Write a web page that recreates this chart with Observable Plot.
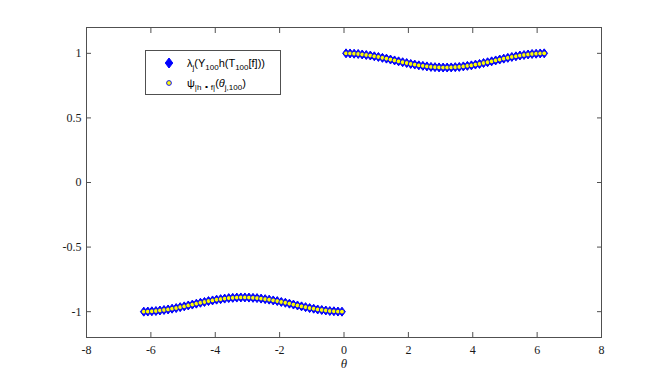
<!DOCTYPE html>
<html><head><meta charset="utf-8">
<script src="https://cdn.jsdelivr.net/npm/d3@7"></script>
<script src="https://cdn.jsdelivr.net/npm/@observablehq/plot@0.6"></script>
<style>body{margin:0;background:#fff}</style>
</head><body><div id="chart"></div>
<script>
// sample angles theta_{j,100}
const theta = [
 -6.220,-6.095,-5.969,-5.843,-5.718,-5.592,-5.466,-5.341,-5.215,-5.089,
 -4.964,-4.838,-4.712,-4.587,-4.461,-4.335,-4.210,-4.084,-3.958,-3.833,
 -3.707,-3.581,-3.456,-3.330,-3.204,-3.079,-2.953,-2.827,-2.702,-2.576,
 -2.450,-2.325,-2.199,-2.073,-1.948,-1.822,-1.696,-1.571,-1.445,-1.319,
 -1.194,-1.068,-0.942,-0.817,-0.691,-0.565,-0.440,-0.314,-0.188,-0.063,
 0.063,0.188,0.314,0.440,0.565,0.691,0.817,0.942,1.068,1.194,
 1.319,1.445,1.571,1.696,1.822,1.948,2.073,2.199,2.325,2.450,
 2.576,2.702,2.827,2.953,3.079,3.204,3.330,3.456,3.581,3.707,
 3.833,3.958,4.084,4.210,4.335,4.461,4.587,4.712,4.838,4.964,
 5.089,5.215,5.341,5.466,5.592,5.718,5.843,5.969,6.095,6.220
];
// eigenvalues lambda_j (diamonds)
const lambdaValues = [
 -1.000,-0.999,-0.997,-0.995,-0.991,-0.987,-0.983,-0.977,-0.972,-0.965,
 -0.959,-0.952,-0.945,-0.938,-0.931,-0.925,-0.918,-0.913,-0.907,-0.903,
 -0.899,-0.895,-0.893,-0.891,-0.890,-0.890,-0.891,-0.893,-0.895,-0.899,
 -0.903,-0.907,-0.913,-0.918,-0.925,-0.931,-0.938,-0.945,-0.952,-0.959,
 -0.965,-0.972,-0.977,-0.983,-0.987,-0.991,-0.995,-0.997,-0.999,-1.000,
 1.000,0.999,0.997,0.995,0.991,0.987,0.983,0.977,0.972,0.965,
 0.959,0.952,0.945,0.938,0.931,0.925,0.918,0.913,0.907,0.903,
 0.899,0.895,0.893,0.891,0.890,0.890,0.891,0.893,0.895,0.899,
 0.903,0.907,0.913,0.918,0.925,0.931,0.938,0.945,0.952,0.959,
 0.965,0.972,0.977,0.983,0.987,0.991,0.995,0.997,0.999,1.000
];
// psi values (circles) — coincide with the eigenvalues in the picture
const psiValues = [
 -1.000,-0.999,-0.997,-0.995,-0.991,-0.987,-0.983,-0.977,-0.972,-0.965,
 -0.959,-0.952,-0.945,-0.938,-0.931,-0.925,-0.918,-0.913,-0.907,-0.903,
 -0.899,-0.895,-0.893,-0.891,-0.890,-0.890,-0.891,-0.893,-0.895,-0.899,
 -0.903,-0.907,-0.913,-0.918,-0.925,-0.931,-0.938,-0.945,-0.952,-0.959,
 -0.965,-0.972,-0.977,-0.983,-0.987,-0.991,-0.995,-0.997,-0.999,-1.000,
 1.000,0.999,0.997,0.995,0.991,0.987,0.983,0.977,0.972,0.965,
 0.959,0.952,0.945,0.938,0.931,0.925,0.918,0.913,0.907,0.903,
 0.899,0.895,0.893,0.891,0.890,0.890,0.891,0.893,0.895,0.899,
 0.903,0.907,0.913,0.918,0.925,0.931,0.938,0.945,0.952,0.959,
 0.965,0.972,0.977,0.983,0.987,0.991,0.995,0.997,0.999,1.000
];
const xTicks = [-8,-6,-4,-2,0,2,4,6,8];
const yTicks = [-1,-0.5,0,0.5,1];
const xLabel = "θ";

const lambdaData = theta.map((t, i) => ({x: t, y: lambdaValues[i]}));
const psiData = theta.map((t, i) => ({x: t, y: psiValues[i]}));

// MATLAB-like diamond marker
const diamondSymbol = {
  draw(ctx, size) {
    const r = Math.sqrt(size / Math.PI);
    const w = r * 0.75;
    ctx.moveTo(0, -r); ctx.lineTo(w, 0); ctx.lineTo(0, r); ctx.lineTo(-w, 0); ctx.closePath();
  }
};

const axisColor = "#505050";
const serif = "Liberation Serif";
const fmt = d => String(d);
const blank = () => "";

const chart = Plot.plot({
  width: 664, height: 380,
  marginLeft: 86, marginRight: 63, marginTop: 27, marginBottom: 43,
  style: {background: "#fff", color: "#1a1a1a", fontFamily: "Liberation Serif, serif", fontSize: "12px"},
  x: {domain: [-8, 8]},
  y: {domain: [-1.2, 1.2]},
  marks: [
    Plot.frame({stroke: axisColor}),
    Plot.axisX({anchor: "bottom", ticks: xTicks, tickSize: 0, tickPadding: 8, tickFormat: fmt, label: null, fontFamily: serif, fontSize: 12}),
    Plot.axisX({anchor: "bottom", ticks: xTicks, tickSize: -5, tickFormat: blank, label: null, stroke: axisColor}),
    Plot.axisX({anchor: "top", ticks: xTicks, tickSize: -5, tickFormat: blank, label: null, stroke: axisColor}),
    Plot.axisY({anchor: "left", ticks: yTicks, tickSize: 0, tickPadding: 5, tickFormat: fmt, label: null, fontFamily: serif, fontSize: 12}),
    Plot.axisY({anchor: "left", ticks: yTicks, tickSize: -5, tickFormat: blank, label: null, stroke: axisColor}),
    Plot.axisY({anchor: "right", ticks: yTicks, tickSize: -5, tickFormat: blank, label: null, stroke: axisColor}),
    Plot.text([xLabel], {frameAnchor: "bottom", dy: 30, fontStyle: "italic", fontSize: 13, fontFamily: serif, fill: "#1a1a1a"}),
    Plot.dot(lambdaData, {x: "x", y: "y", symbol: diamondSymbol, r: 4.5, fill: "#0000ff", stroke: "#0000ff", strokeWidth: 1}),
    Plot.dot(psiData, {x: "x", y: "y", r: 2.4, fill: "#ffff00", stroke: "#0000ff", strokeWidth: 0.9})
  ]
});
document.getElementById("chart").appendChild(chart);

// Legend
const svg = d3.select(chart);
const lg = svg.append("g")
  .attr("font-family", "'Liberation Sans', Arial, sans-serif")
  .attr("font-size", 11).attr("fill", "#000").attr("text-anchor", "start");
lg.append("rect").attr("x", 145.5).attr("y", 50.5).attr("width", 135).attr("height", 44)
  .attr("fill", "#fff").attr("stroke", axisColor).attr("stroke-width", 1);
lg.append("path").attr("transform", "translate(169,63)")
  .attr("d", d3.symbol(diamondSymbol, Math.PI * 5 * 5)())
  .attr("fill", "#0000ff").attr("stroke", "#0000ff");
lg.append("circle").attr("cx", 169).attr("cy", 83).attr("r", 2.4)
  .attr("fill", "#ffff00").attr("stroke", "#0000ff").attr("stroke-width", 0.9);

function addLabel(y, parts) {
  const t = lg.append("text").attr("x", 187).attr("y", y).attr("text-anchor", "start");
  let shift = 0;
  for (const p of parts) {
    const target = p.sub ? 3 : 0;
    const s = t.append("tspan").text(p.t).attr("dy", target - shift)
      .attr("font-size", p.sub ? 8 : 11);
    if (p.it) s.attr("font-style", "italic");
    shift = target;
  }
}
addLabel(67, [
  {t: "λ"}, {t: "j", sub: true}, {t: "(Y"}, {t: "100", sub: true}, {t: "h(T"},
  {t: "100", sub: true}, {t: "[f]))"}
]);
addLabel(87, [
  {t: "ψ"}, {t: "|h ∘ f|", sub: true}, {t: "("}, {t: "θ", it: true}, {t: "j,100", sub: true}, {t: ")"}
]);
</script>
</body></html>
